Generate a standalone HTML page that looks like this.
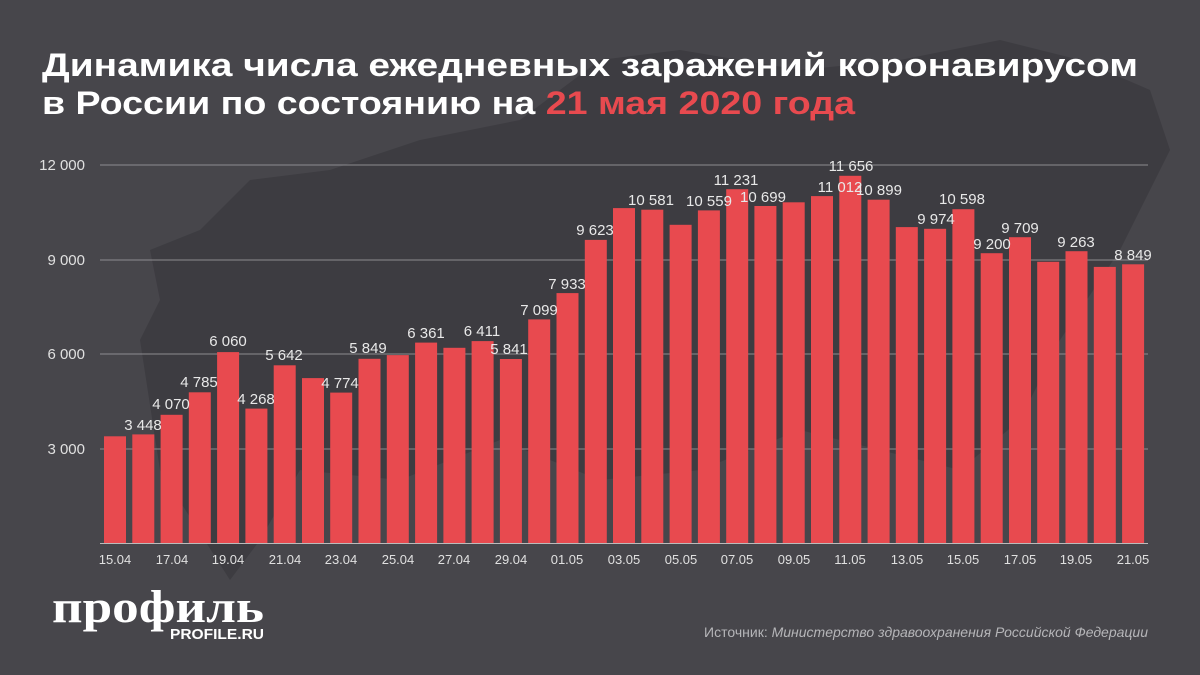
<!DOCTYPE html>
<html><head><meta charset="utf-8"><style>
body{margin:0;width:1200px;height:675px;overflow:hidden;background:#47464b;}
svg{display:block}
</style></head><body>
<svg width="1200" height="675" xmlns="http://www.w3.org/2000/svg" font-family="Liberation Sans, sans-serif">
<rect width="1200" height="675" fill="#47464b"/>
<path d="M140,340 L160,300 L150,250 L200,230 L250,180 L330,170 L420,140 L520,120 L600,60 L680,50 L800,70 L900,60 L1000,40 L1080,60 L1150,90 L1170,150 L1120,250 L1060,340 L1020,420 L960,470 L880,450 L800,430 L700,470 L600,480 L500,440 L400,480 L300,470 L260,540 L230,580 L160,470 Z" fill="#3d3c41"/>
<text x="42" y="76" font-size="32" font-weight="bold" fill="#fff" textLength="1096" lengthAdjust="spacingAndGlyphs">Динамика числа ежедневных заражений коронавирусом</text>
<text x="42" y="114" font-size="32" font-weight="bold" fill="#fff" textLength="813" lengthAdjust="spacingAndGlyphs">в России по состоянию на <tspan fill="#e84a4f">21 мая 2020 года</tspan></text>
<g stroke="#8d8c90" stroke-width="1">
<line x1="100" x2="1148" y1="165" y2="165"/><line x1="100" x2="1148" y1="260" y2="260"/><line x1="100" x2="1148" y1="354" y2="354"/><line x1="100" x2="1148" y1="449" y2="449"/><line x1="100" x2="1148" y1="543.5" y2="543.5" stroke="#bbb"/>
</g>
<g fill="#e0e0e0" font-size="15" text-anchor="end">
<text x="85" y="170">12 000</text><text x="85" y="265">9 000</text><text x="85" y="359">6 000</text><text x="85" y="454">3 000</text>
</g>
<g fill="#e84a4f">
<rect x="104" y="436.3" width="22" height="106.7"/><rect x="132.3" y="434.4" width="22" height="108.6"/><rect x="160.6" y="414.8" width="22" height="128.2"/><rect x="188.8" y="392.3" width="22" height="150.7"/><rect x="217.1" y="352.1" width="22" height="190.9"/><rect x="245.4" y="408.6" width="22" height="134.4"/><rect x="273.7" y="365.3" width="22" height="177.7"/><rect x="302" y="378.1" width="22" height="164.9"/><rect x="330.2" y="392.6" width="22" height="150.4"/><rect x="358.5" y="358.8" width="22" height="184.2"/><rect x="386.8" y="355.1" width="22" height="187.9"/><rect x="415.1" y="342.6" width="22" height="200.4"/><rect x="443.4" y="347.8" width="22" height="195.2"/><rect x="471.6" y="341.1" width="22" height="201.9"/><rect x="499.9" y="359" width="22" height="184"/><rect x="528.2" y="319.4" width="22" height="223.6"/><rect x="556.5" y="293.1" width="22" height="249.9"/><rect x="584.8" y="239.9" width="22" height="303.1"/><rect x="613" y="208.1" width="22" height="334.9"/><rect x="641.3" y="209.7" width="22" height="333.3"/><rect x="669.6" y="224.8" width="22" height="318.2"/><rect x="697.9" y="210.4" width="22" height="332.6"/><rect x="726.2" y="189.2" width="22" height="353.8"/><rect x="754.4" y="206" width="22" height="337"/><rect x="782.7" y="202.3" width="22" height="340.7"/><rect x="811" y="196.1" width="22" height="346.9"/><rect x="839.3" y="175.8" width="22" height="367.2"/><rect x="867.6" y="199.7" width="22" height="343.3"/><rect x="895.8" y="227.1" width="22" height="315.9"/><rect x="924.1" y="228.8" width="22" height="314.2"/><rect x="952.4" y="209.2" width="22" height="333.8"/><rect x="980.7" y="253.2" width="22" height="289.8"/><rect x="1009" y="237.2" width="22" height="305.8"/><rect x="1037.2" y="261.8" width="22" height="281.2"/><rect x="1065.5" y="251.2" width="22" height="291.8"/><rect x="1093.8" y="266.9" width="22" height="276.1"/><rect x="1122.1" y="264.3" width="22" height="278.7"/>
</g>
<g fill="#e8e8e8" font-size="15" text-anchor="middle">
<text x="143" y="430">3 448</text><text x="171" y="409">4 070</text><text x="199" y="387">4 785</text><text x="228" y="346">6 060</text><text x="256" y="404">4 268</text><text x="284" y="360">5 642</text><text x="340" y="388">4 774</text><text x="368" y="353">5 849</text><text x="426" y="338">6 361</text><text x="482" y="336">6 411</text><text x="509" y="354">5 841</text><text x="539" y="315">7 099</text><text x="567" y="289">7 933</text><text x="595" y="235">9 623</text><text x="651" y="205">10 581</text><text x="709" y="206">10 559</text><text x="736" y="185">11 231</text><text x="763" y="202">10 699</text><text x="840" y="192">11 012</text><text x="851" y="171">11 656</text><text x="879" y="195">10 899</text><text x="936" y="224">9 974</text><text x="962" y="204">10 598</text><text x="992" y="249">9 200</text><text x="1020" y="233">9 709</text><text x="1076" y="247">9 263</text><text x="1133" y="260">8 849</text>
</g>
<g fill="#e0e0e0" font-size="13" text-anchor="middle">
<text x="115" y="564">15.04</text><text x="172" y="564">17.04</text><text x="228" y="564">19.04</text><text x="285" y="564">21.04</text><text x="341" y="564">23.04</text><text x="398" y="564">25.04</text><text x="454" y="564">27.04</text><text x="511" y="564">29.04</text><text x="567" y="564">01.05</text><text x="624" y="564">03.05</text><text x="681" y="564">05.05</text><text x="737" y="564">07.05</text><text x="794" y="564">09.05</text><text x="850" y="564">11.05</text><text x="907" y="564">13.05</text><text x="963" y="564">15.05</text><text x="1020" y="564">17.05</text><text x="1076" y="564">19.05</text><text x="1133" y="564">21.05</text>
</g>
<text x="52" y="622" font-size="46" font-weight="bold" font-family="Liberation Serif, serif" fill="#fff" textLength="212" lengthAdjust="spacingAndGlyphs">профиль</text>
<text x="264" y="639" font-size="15" font-weight="bold" fill="#fff" text-anchor="end" textLength="94" lengthAdjust="spacingAndGlyphs">PROFILE.RU</text>
<text x="1148" y="637" font-size="14" fill="#b5b5b8" text-anchor="end">Источник: <tspan font-style="italic">Министерство здравоохранения Российской Федерации</tspan></text>
</svg>
</body></html>
